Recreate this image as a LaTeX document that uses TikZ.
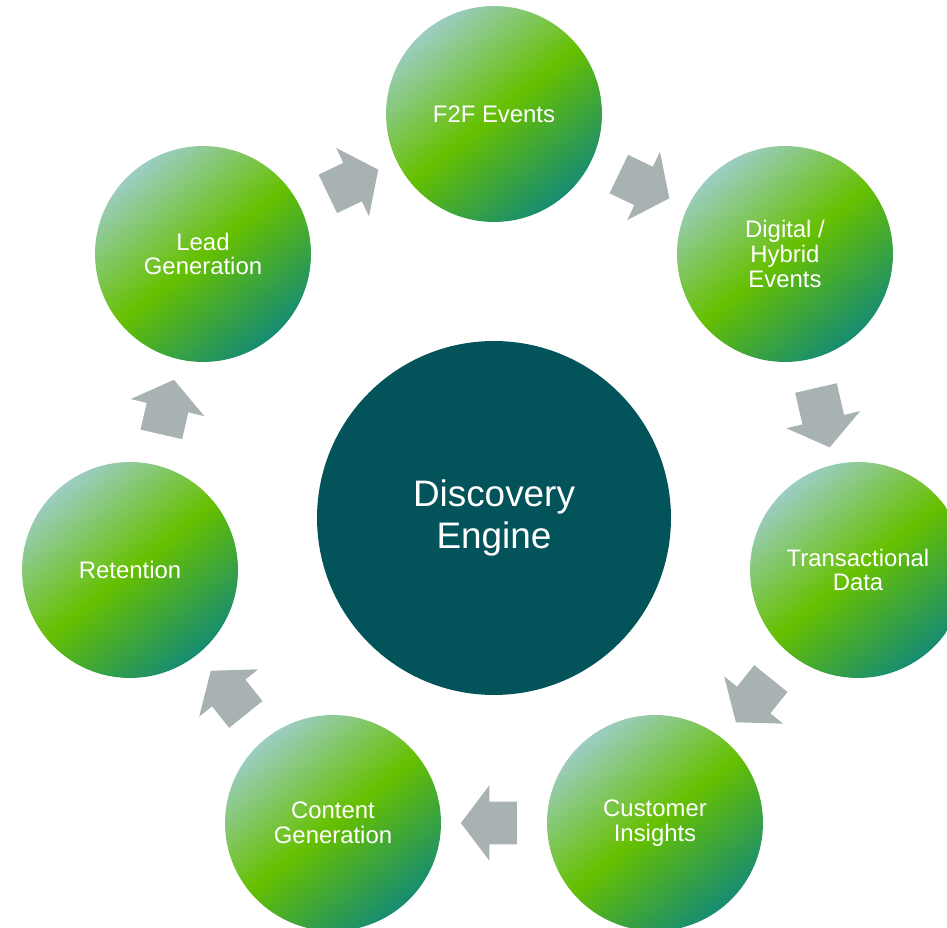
\documentclass[tikz,border=0pt]{standalone}
\usepackage{fontspec}
\setmainfont{Liberation Sans}
\usetikzlibrary{shapes.arrows}

\definecolor{stagelight}{HTML}{9CCDC2}
\definecolor{stagegreen}{HTML}{66C000}
\definecolor{stagedark}{HTML}{168C72}
\definecolor{hubteal}{HTML}{03535A}
\definecolor{flowgray}{HTML}{A9B2B2}

\tikzset{
  stage/.style={circle, minimum size=4.32cm, inner sep=0pt, align=center,
    text=white, font=\fontsize{13.6}{14}\selectfont,
    top color=stagelight, bottom color=stagedark, middle color=stagegreen,
    shading angle=39},
  hub/.style={circle, minimum size=7.08cm, inner sep=0pt, align=center,
    fill=hubteal, text=white, font=\fontsize{21}{24}\selectfont},
  flow/.style={single arrow, fill=flowgray, inner xsep=0pt, inner ysep=0.42cm,
    minimum height=1.12cm, minimum width=1.5cm,
    single arrow head extend=0.33cm, single arrow tip angle=106,
    sloped, allow upside down, pos=0.472}
}

\begin{document}
\begin{tikzpicture}[x=0.02cm, y=-0.02cm]
  \useasboundingbox (0,0) rectangle (947,928);
  \node[hub] (engine) at (494,518) {Discovery\\Engine};
  \begin{scope}[every node/.style={stage}]
    \node (f2f) at (494,114) {F2F Events};
    \node (digital) at (785,254) {Digital /\\Hybrid\\Events};
    \node (trans) at (858,570) {Transactional\\Data};
    \node (insights) at (655,823) {Customer\\Insights};
    \node (content) at (333,823) {Content\\Generation};
    \node (retention) at (130,570) {Retention};
    \node (lead) at (203,254) {Lead\\Generation};
  \end{scope}
  \begin{scope}[every node/.style={flow}]
    \path (lead) -- node {} (f2f);
    \path (f2f) -- node {} (digital);
    \path (digital) -- node[minimum height=1.22cm, pos=0.48] {} (trans);
    \path (trans) -- node {} (insights);
    \path (insights) -- node {} (content);
    \path (content) -- node {} (retention);
    \path (retention) -- node {} (lead);
  \end{scope}
\end{tikzpicture}
\end{document}
